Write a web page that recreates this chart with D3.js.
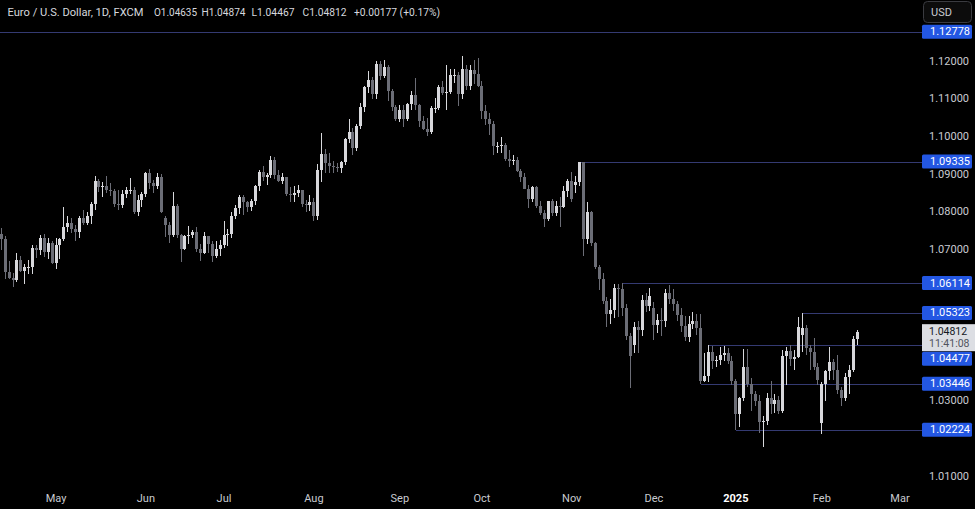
<!DOCTYPE html>
<html><head><meta charset="utf-8">
<script src="https://cdn.jsdelivr.net/npm/d3@7"></script>
<style>
html,body{margin:0;padding:0;background:#000;}
svg{display:block;font-family:Roboto,"Liberation Sans",sans-serif;}
</style></head><body>
<svg id="chart" width="975" height="509"></svg>
<script>
// ---------- DATA ----------
const symbolTitle = "Euro / U.S. Dollar, 1D, FXCM";
const startDate = "2024-04-11";
const axisEndDate = "2025-03-03";
const closedDays = ["2024-12-25", "2025-01-01"];

const opens = [
1.0742,1.0727,1.0642,1.0625,1.0620,1.0672,1.0643,1.0655,1.0655,1.0704,
1.0698,1.0730,1.0693,1.0718,1.0665,1.0713,1.0727,1.0760,1.0770,1.0754,
1.0748,1.0783,1.0771,1.0788,1.0820,1.0883,1.0866,1.0870,1.0858,1.0855,
1.0820,1.0818,1.0847,1.0858,1.0858,1.0800,1.0832,1.0848,1.0903,1.0877,
1.0868,1.0893,1.0785,1.0765,1.0740,1.0815,1.0740,1.0702,1.0735,1.0740,
1.0748,1.0702,1.0692,1.0735,1.0714,1.0682,1.0701,1.0713,1.0740,1.0741,
1.0790,1.0810,1.0840,1.0825,1.0814,1.0830,1.0868,1.0907,1.0893,1.0898,
1.0938,1.0899,1.0882,1.0892,1.0847,1.0845,1.0850,1.0857,1.0820,1.0817,
1.0825,1.0790,1.0910,1.0954,1.0930,1.0922,1.0920,1.0916,1.0933,1.0992,
1.1012,1.0970,1.1027,1.1077,1.1130,1.1150,1.1113,1.1193,1.1160,1.1185,
1.1120,1.1077,1.1047,1.1071,1.1045,1.1086,1.1110,1.1083,1.1040,1.1020,
1.1013,1.1075,1.1076,1.1132,1.1116,1.1118,1.1162,1.1163,1.1112,1.1180,
1.1133,1.1176,1.1165,1.1134,1.1068,1.1045,1.1032,1.0975,1.0975,1.0978,
1.0941,1.0936,1.0937,1.0908,1.0892,1.0862,1.0833,1.0866,1.0816,1.0797,
1.0781,1.0828,1.0797,1.0815,1.0814,1.0856,1.0883,1.0872,1.0880,1.0932,
1.0728,1.0801,1.0718,1.0655,1.0622,1.0565,1.0530,1.0540,1.0598,1.0596,
1.0545,1.0472,1.0448,1.0496,1.0487,1.0567,1.0550,1.0545,1.0499,1.0513,
1.0510,1.0586,1.0568,1.0555,1.0527,1.0497,1.0469,1.0502,1.0512,1.0492,
1.0352,1.0364,1.0428,1.0405,1.0407,1.0422,1.0427,1.0405,1.0353,1.0264,
1.0308,1.0390,1.0344,1.0317,1.0299,1.0244,1.0245,1.0307,1.0292,1.0301,
1.0272,1.0417,1.0432,1.0410,1.0415,1.0475,1.0492,1.0440,1.0430,1.0390,
1.0240,1.0344,1.0379,1.0403,1.0381,1.0328,1.0307,1.0362,1.0382,1.04635];

const highs = [
1.0757,1.0735,1.0669,1.0637,1.0690,1.0683,1.0661,1.0673,1.0713,1.0711,
1.0738,1.0741,1.0730,1.0723,1.0730,1.0730,1.0812,1.0790,1.0785,1.0766,
1.0790,1.0805,1.0800,1.0825,1.0895,1.0887,1.0880,1.0894,1.0877,1.0861,
1.0858,1.0858,1.0865,1.0889,1.0865,1.0845,1.0852,1.0905,1.0915,1.0885,
1.0902,1.0900,1.0790,1.0774,1.0852,1.0820,1.0741,1.0740,1.0762,1.0752,
1.0760,1.0716,1.0746,1.0737,1.0722,1.0723,1.0725,1.0776,1.0755,1.0801,
1.0817,1.0845,1.0845,1.0830,1.0834,1.0871,1.0910,1.0922,1.0904,1.0948,
1.0945,1.0911,1.0902,1.0893,1.0866,1.0868,1.0871,1.0859,1.0831,1.0845,
1.0837,1.0926,1.1008,1.0968,1.0956,1.0935,1.0930,1.0936,1.0996,1.1047,
1.1023,1.1034,1.1088,1.1133,1.1174,1.1158,1.1201,1.1200,1.1202,1.1190,
1.1125,1.1084,1.1083,1.1083,1.1090,1.1120,1.1155,1.1085,1.1055,1.1048,
1.1080,1.1102,1.1137,1.1146,1.1189,1.1180,1.1180,1.1171,1.1214,1.1190,
1.1190,1.1202,1.1209,1.1146,1.1083,1.1061,1.1040,1.0986,1.0998,1.0982,
1.0965,1.0950,1.0945,1.0915,1.0902,1.0872,1.0870,1.0869,1.0830,1.0806,
1.0830,1.0834,1.0830,1.0839,1.0870,1.0888,1.0905,1.0894,1.09335,1.0933,
1.0826,1.0803,1.0720,1.0660,1.0638,1.0575,1.0569,1.0608,1.0610,1.06114,
1.0555,1.0479,1.0509,1.0510,1.0581,1.0585,1.0597,1.0560,1.0530,1.0545,
1.0596,1.0605,1.0595,1.0563,1.0545,1.0525,1.0524,1.0534,1.0530,1.0530,
1.0425,1.04477,1.0445,1.0417,1.0443,1.0444,1.0440,1.0417,1.0357,1.0310,
1.0437,1.0436,1.0360,1.0325,1.0315,1.0260,1.0320,1.0353,1.0318,1.0313,
1.0435,1.0443,1.0446,1.0434,1.0521,1.05323,1.0500,1.0448,1.0467,1.0400,
1.0350,1.0382,1.0442,1.0410,1.0420,1.0336,1.0374,1.0393,1.0470,1.04874];

const lows = [
1.0698,1.0622,1.0621,1.0601,1.0615,1.0642,1.0610,1.0636,1.0635,1.0677,
1.0687,1.0680,1.0676,1.0662,1.0650,1.0676,1.0724,1.0748,1.0744,1.0724,
1.0731,1.0765,1.0764,1.0767,1.0806,1.0852,1.0840,1.0850,1.0843,1.0812,
1.0805,1.0810,1.0838,1.0847,1.0795,1.0788,1.0812,1.0840,1.0860,1.0851,
1.0860,1.0797,1.0733,1.0718,1.0733,1.0732,1.0668,1.0698,1.0716,1.0732,
1.0695,1.0671,1.0688,1.0690,1.0668,1.0677,1.0683,1.0705,1.0710,1.0732,
1.0781,1.0795,1.0791,1.0800,1.0803,1.0817,1.0855,1.0882,1.0872,1.0890,
1.0888,1.0878,1.0875,1.0842,1.0825,1.0825,1.0840,1.0812,1.0801,1.0802,
1.0777,1.0778,1.0880,1.0903,1.0903,1.0904,1.0906,1.0902,1.0925,1.0982,
1.0950,1.0962,1.1020,1.1065,1.1115,1.1098,1.1100,1.1150,1.1155,1.1095,
1.1067,1.1040,1.1039,1.1026,1.1040,1.1070,1.1069,1.1026,1.1017,1.1002,
1.1007,1.1063,1.1070,1.1110,1.1069,1.1112,1.1142,1.1082,1.1100,1.1123,
1.1123,1.1140,1.1130,1.1045,1.1030,1.1005,1.0950,1.0955,1.0955,1.0935,
1.0918,1.0925,1.0905,1.0880,1.0860,1.0811,1.0827,1.0811,1.0791,1.0761,
1.0775,1.0790,1.0790,1.0761,1.0810,1.0840,1.0827,1.0850,1.0870,1.0683,
1.0715,1.0710,1.0650,1.0594,1.0556,1.0496,1.0502,1.0520,1.0522,1.0525,
1.0460,1.0333,1.0425,1.0425,1.0471,1.0534,1.0538,1.0460,1.0480,1.0470,
1.0494,1.0557,1.0537,1.0510,1.0482,1.0458,1.0454,1.0490,1.0473,1.03446,
1.0350,1.0350,1.0383,1.0390,1.0395,1.0405,1.0398,1.0340,1.02224,1.0230,
1.0300,1.0335,1.0272,1.0285,1.0215,1.0177,1.0235,1.0265,1.0267,1.0265,
1.0266,1.0340,1.0392,1.0380,1.0412,1.0430,1.0422,1.0381,1.0380,1.0340,
1.0212,1.0300,1.0355,1.0355,1.0317,1.0285,1.0300,1.0318,1.0375,1.04467];

const closes = [
1.0727,1.0642,1.0625,1.0620,1.0672,1.0643,1.0655,1.0655,1.0704,1.0698,
1.0730,1.0693,1.0718,1.0665,1.0713,1.0727,1.0760,1.0770,1.0754,1.0748,
1.0783,1.0771,1.0788,1.0820,1.0883,1.0866,1.0870,1.0858,1.0855,1.0820,
1.0818,1.0847,1.0858,1.0858,1.0800,1.0832,1.0848,1.0903,1.0877,1.0868,
1.0893,1.0801,1.0765,1.0740,1.0815,1.0740,1.0702,1.0735,1.0740,1.0748,
1.0702,1.0692,1.0735,1.0714,1.0682,1.0701,1.0713,1.0740,1.0741,1.0790,
1.0810,1.0840,1.0825,1.0814,1.0830,1.0868,1.0907,1.0893,1.0898,1.0938,
1.0899,1.0882,1.0892,1.0847,1.0845,1.0850,1.0857,1.0820,1.0817,1.0825,
1.0790,1.0910,1.0954,1.0930,1.0922,1.0920,1.0916,1.0933,1.0992,1.1012,
1.0970,1.1027,1.1077,1.1130,1.1150,1.1113,1.1193,1.1160,1.1185,1.1120,
1.1077,1.1047,1.1071,1.1045,1.1086,1.1110,1.1083,1.1040,1.1020,1.1013,
1.1075,1.1076,1.1132,1.1116,1.1118,1.1162,1.1163,1.1112,1.1180,1.1133,
1.1176,1.1165,1.1134,1.1068,1.1045,1.1032,1.0975,1.0975,1.0978,1.0941,
1.0936,1.0937,1.0908,1.0892,1.0862,1.0833,1.0866,1.0816,1.0797,1.0781,
1.0828,1.0797,1.0815,1.0814,1.0856,1.0883,1.0833,1.0880,1.0932,1.0728,
1.0801,1.0718,1.0655,1.0622,1.0565,1.0530,1.0540,1.0598,1.0596,1.0545,
1.0472,1.0418,1.0496,1.0487,1.0567,1.0550,1.0577,1.0499,1.0513,1.0510,
1.0586,1.0568,1.0555,1.0527,1.0497,1.0469,1.0502,1.0512,1.0492,1.0352,
1.0364,1.0428,1.0405,1.0407,1.0422,1.0427,1.0405,1.0353,1.0264,1.0308,
1.0390,1.0344,1.0317,1.0299,1.0244,1.0245,1.0307,1.0292,1.0301,1.0272,
1.0417,1.0432,1.0410,1.0415,1.0494,1.0492,1.0440,1.0430,1.0390,1.0355,
1.0344,1.0379,1.0403,1.0381,1.0328,1.0307,1.0362,1.0382,1.04635,1.04812];

const priceTicks = [1.01,1.02,1.03,1.04,1.05,1.06,1.07,1.08,1.09,1.10,1.11,1.12];
const levelPrices = [1.12778, 1.09335, 1.06114, 1.05323, 1.04477, 1.03446, 1.02224];
const levelStarts = [null, "2024-11-05", "2024-11-20", "2025-01-27", "2024-12-20", "2024-12-18", "2025-01-02"];
const monthTickLabels = ["May","Jun","Jul","Aug","Sep","Oct","Nov","Dec","2025","Feb","Mar"];
const countdown = "11:41:08";
const currency = "USD";

// ---------- CALENDAR ----------
const parse = d3.utcParse("%Y-%m-%d"), fmt = d3.utcFormat("%Y-%m-%d");
const calendar = d3.utcDays(parse(startDate), d3.utcDay.offset(parse(axisEndDate), 1))
  .filter(d => d.getUTCDay() !== 0 && d.getUTCDay() !== 6 && !closedDays.includes(fmt(d)));
const idxOf = s => calendar.findIndex(d => fmt(d) === s);

const data = closes.map((c, i) => ({i, date: calendar[i], o: opens[i], h: highs[i], l: lows[i], c}));

// ---------- SCALES ----------
const W = 975, H = 509, axisX = 922;
const x = d3.scaleLinear().domain([0, calendar.length - 1]).range([1.3, 900]);
const y = d3.scaleLinear().domain([1.01, 1.12]).range([476, 61]);

const svg = d3.select("#chart");
svg.append("rect").attr("width", W).attr("height", H).attr("fill", "#000");

const UP = "#d7d8dc", DOWN = "#6b6d76", LINE = "#343a72", BLUE = "#2357e3", TXT = "#c9cbd1";

// level lines (under candles)
const gLines = svg.append("g");
levelPrices.forEach((p, k) => {
  const x0 = levelStarts[k] ? Math.round(x(idxOf(levelStarts[k]))) : 0;
  const yy = Math.round(y(p)) + 0.5;
  gLines.append("line").attr("x1", x0).attr("x2", axisX).attr("y1", yy).attr("y2", yy)
    .attr("stroke", LINE).attr("stroke-width", 1);
});

// candles
const gC = svg.append("g");
data.forEach(d => {
  const col = d.c >= d.o ? UP : DOWN;
  const px = Math.round(x(d.i) - 0.5);
  const yh = Math.round(y(d.h)), yl = Math.round(y(d.l));
  gC.append("rect").attr("x", px).attr("width", 1).attr("y", yh).attr("height", Math.max(1, yl - yh)).attr("fill", col);
  const t = Math.round(y(Math.max(d.o, d.c))), b = Math.round(y(Math.min(d.o, d.c)));
  gC.append("rect").attr("x", px - 1).attr("width", 3).attr("y", t).attr("height", Math.max(1, b - t)).attr("fill", col);
});

// time axis
const monthStarts = [];
calendar.forEach((d, i) => {
  if (i > 0 && d.getUTCMonth() !== calendar[i - 1].getUTCMonth()) monthStarts.push(i);
});
monthStarts.forEach((i, k) => {
  const lab = monthTickLabels[k];
  if (!lab) return;
  svg.append("text").attr("x", x(i)).attr("y", 498).attr("text-anchor", "middle")
    .attr("dominant-baseline", "central").attr("font-size", 11)
    .attr("font-weight", lab === "2025" ? "bold" : "normal")
    .attr("fill", lab === "2025" ? "#ffffff" : TXT).text(lab);
});

// label placement on the price scale
const f5 = d3.format(".5f");
const last = data[data.length - 1], prev = data[data.length - 2];
const pc = y(last.c);
const boxTop = pc - 8, boxBot = pc + 19;
const labelCenters = levelPrices.map(p => {
  let c = y(p);
  if (c + 7 > boxTop && c - 7 < boxBot) c = (c > (boxTop + boxBot) / 2) ? boxBot + 7.5 : boxTop - 7;
  return c;
});

// price axis ticks (those hidden behind the price-scale labels are not drawn)
priceTicks.forEach(p => {
  const ty = y(p);
  const hidden = labelCenters.some(c => Math.abs(c - ty) < 11) || (ty > boxTop - 5 && ty < boxBot + 5);
  if (hidden) return;
  svg.append("text").attr("x", 929).attr("y", ty).attr("dominant-baseline", "central")
    .attr("font-size", 11).attr("fill", TXT).text(f5(p));
});

levelPrices.forEach((p, k) => {
  const c = labelCenters[k];
  svg.append("rect").attr("x", axisX).attr("y", c - 7).attr("width", 50).attr("height", 14)
    .attr("rx", 1.5).attr("fill", BLUE);
  svg.append("text").attr("x", 930).attr("y", c).attr("dominant-baseline", "central")
    .attr("font-size", 11).attr("fill", "#fff").text(f5(p));
});
svg.append("rect").attr("x", axisX).attr("y", boxTop).attr("width", W - axisX).attr("height", boxBot - boxTop)
  .attr("fill", "#dcdee3");
svg.append("text").attr("x", 929).attr("y", pc - 0.5).attr("dominant-baseline", "central")
  .attr("font-size", 10.5).attr("fill", "#131722").text(f5(last.c));
svg.append("text").attr("x", 929).attr("y", pc + 11.5).attr("dominant-baseline", "central")
  .attr("font-size", 10.5).attr("fill", "#50535e").text(countdown);

// currency button
svg.append("rect").attr("x", 923.5).attr("y", 1.5).attr("width", 48).attr("height", 21).attr("rx", 4)
  .attr("fill", "#0c0c0c").attr("stroke", "#3a3b40");
svg.append("text").attr("x", 931).attr("y", 12.5).attr("dominant-baseline", "central")
  .attr("font-size", 11).attr("fill", TXT).text(currency);

// legend
const chg = last.c - prev.c;
const legendParts = [
  [7.5, 136, symbolTitle],
  [154, 43, "O" + f5(last.o)],
  [201.5, 44, "H" + f5(last.h)],
  [251.5, 43, "L" + f5(last.l)],
  [302.5, 44, "C" + f5(last.c)],
  [354, 86, (chg >= 0 ? "+" : "") + f5(chg) + " (" + (chg >= 0 ? "+" : "") + d3.format(".2f")(chg / prev.c * 100) + "%)"]
];
legendParts.forEach(([lx, len, t]) => {
  svg.append("text").attr("x", lx).attr("y", 12).attr("dominant-baseline", "central")
    .attr("font-size", 11.5).attr("fill", "#d6d8de")
    .attr("textLength", len).attr("lengthAdjust", "spacingAndGlyphs").text(t);
});
</script>
</body></html>
